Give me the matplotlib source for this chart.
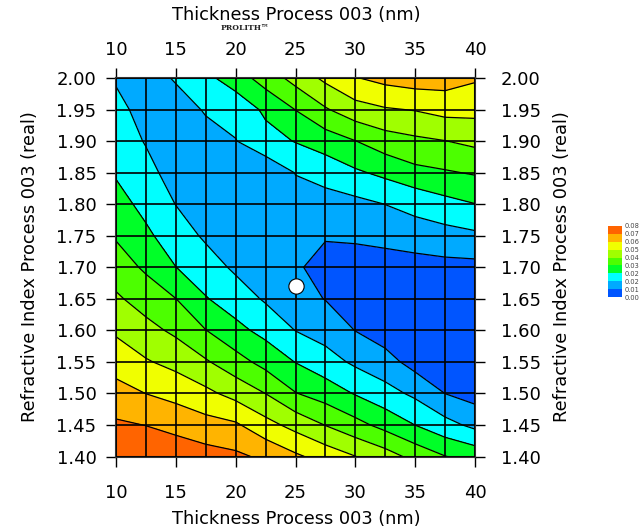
import matplotlib
matplotlib.use("Agg")
import matplotlib.pyplot as plt
import numpy as np
from matplotlib.colors import ListedColormap, BoundaryNorm
import matplotlib as mpl

# ---- data ----
thickness = [10, 12.5, 15, 17.5, 20, 22.5, 25, 27.5, 30, 32.5, 35, 37.5, 40]
refr_index = [1.40, 1.45, 1.50, 1.55, 1.60, 1.65, 1.70, 1.75, 1.80, 1.85, 1.90, 1.95, 2.00]
x_ticks = [10, 15, 20, 25, 30, 35, 40]

# rows: refractive index 1.40 .. 2.00 ; columns: thickness 10 .. 40
merit_n140 = [0.07417, 0.07333, 0.07167, 0.07000, 0.06833, 0.06500, 0.05975, 0.05500, 0.05017, 0.04542, 0.03900, 0.03358, 0.03042]
merit_n145 = [0.06792, 0.06650, 0.06425, 0.06142, 0.05950, 0.05283, 0.04725, 0.04142, 0.03608, 0.03058, 0.02492, 0.01950, 0.01458]
merit_n150 = [0.06133, 0.05825, 0.05558, 0.05200, 0.04717, 0.04158, 0.03367, 0.02958, 0.02442, 0.01967, 0.01500, 0.00825, 0.00508]
merit_n155 = [0.05492, 0.05075, 0.04750, 0.04258, 0.03658, 0.03050, 0.02475, 0.02008, 0.01517, 0.01150, 0.00517, 0.00375, 0.00375]
merit_n160 = [0.04875, 0.04433, 0.04000, 0.03350, 0.02733, 0.02250, 0.01650, 0.01333, 0.00817, 0.00417, 0.00333, 0.00292, 0.00333]
merit_n165 = [0.04292, 0.03808, 0.03342, 0.02550, 0.02092, 0.01567, 0.01125, 0.00808, 0.00500, 0.00333, 0.00292, 0.00292, 0.00417]
merit_n170 = [0.03750, 0.03200, 0.02508, 0.02042, 0.01525, 0.01208, 0.00933, 0.00567, 0.00417, 0.00458, 0.00417, 0.00583, 0.00592]
merit_n175 = [0.03250, 0.02658, 0.02075, 0.01542, 0.01250, 0.01083, 0.01042, 0.00892, 0.00975, 0.01083, 0.01342, 0.01358, 0.01508]
merit_n180 = [0.02808, 0.02267, 0.01650, 0.01250, 0.01125, 0.01000, 0.01375, 0.01325, 0.01433, 0.01675, 0.01875, 0.02233, 0.02483]
merit_n185 = [0.02417, 0.01942, 0.01300, 0.01167, 0.01250, 0.01125, 0.01692, 0.01983, 0.02375, 0.02692, 0.03100, 0.03250, 0.03408]
merit_n190 = [0.02142, 0.01608, 0.01208, 0.01333, 0.01642, 0.02167, 0.02542, 0.02892, 0.03317, 0.03783, 0.04000, 0.04150, 0.04358]
merit_n195 = [0.01867, 0.01417, 0.01250, 0.01750, 0.01917, 0.02667, 0.03350, 0.04083, 0.04667, 0.04925, 0.05042, 0.05275, 0.05250]
merit_n200 = [0.01592, 0.01250, 0.01758, 0.02283, 0.02933, 0.03692, 0.04458, 0.05183, 0.05792, 0.06083, 0.06250, 0.06208, 0.05933]

levels = [0.0, 0.008333, 0.016667, 0.025, 0.033333, 0.041667, 0.05, 0.058333, 0.066667, 0.075]
level_labels = ["0.00", "0.01", "0.02", "0.02", "0.03", "0.04", "0.05", "0.06", "0.07", "0.08"]
band_colors = ["#0055ff", "#00aaff", "#00ffff", "#00ff28", "#4cff00",
               "#a0ff00", "#f0ff00", "#ffb400", "#ff6400"]

best_thickness = 25.0
best_index = 1.67

x_label = "Thickness Process 003 (nm)"
y_label = "Refractive Index Process 003 (real)"

Z = np.array([merit_n140, merit_n145, merit_n150, merit_n155, merit_n160, merit_n165,
              merit_n170, merit_n175, merit_n180, merit_n185, merit_n190, merit_n195,
              merit_n200])
X, Y = np.meshgrid(thickness, refr_index)

# ---- figure ----
W, H = 639, 531
fig = plt.figure(figsize=(W / 100, H / 100), dpi=100)
ax = fig.add_axes([116 / W, 1 - 456.5 / H, 359 / W, 378.5 / H])

ax.contourf(X, Y, Z, levels=levels, colors=band_colors)
ax.contour(X, Y, Z, levels=levels[1:-1], colors="k", linewidths=0.9)

for xv in thickness:
    ax.axvline(xv, color="k", lw=1.2, zorder=3)
for yv in refr_index:
    ax.axhline(yv, color="k", lw=1.2, zorder=3)

ax.plot(best_thickness, best_index, "o", ms=11, mfc="white", mec="k", mew=0.8, zorder=5)

ax.set_xlim(thickness[0], thickness[-1])
ax.set_ylim(refr_index[0], refr_index[-1])
ax.set_xticks(x_ticks)
ax.set_yticks(refr_index)
ax.set_yticklabels([f"{v:.2f}" for v in refr_index])

for s in ax.spines.values():
    s.set_linewidth(1.5)
    s.set_color("#333333")

tick_font = 13
ax.tick_params(direction="out", length=7, width=1, labelsize=tick_font,
               top=True, right=True, labeltop=False, labelright=False)
ax.tick_params(axis="x", pad=12.5)
ax.tick_params(axis="y", pad=7)

# top / right tick labels with their own spacing
secx = ax.secondary_xaxis("top")
secx.set_xticks(x_ticks)
secx.tick_params(length=0, pad=13.7, labelsize=tick_font)
secx.spines["top"].set_visible(False)
secy = ax.secondary_yaxis("right")
secy.set_yticks(refr_index)
secy.set_yticklabels([f"{v:.2f}" for v in refr_index])
secy.tick_params(length=0, pad=18.8, labelsize=tick_font)
secy.spines["right"].set_visible(False)

lab_font = 12.8
fig.text(296 / W, 1 - 519 / H, x_label, fontsize=lab_font, ha="center", va="center")
fig.text(296 / W, 1 - 15 / H, x_label, fontsize=lab_font, ha="center", va="center")
fig.text(30 / W, 1 - 267 / H, y_label, fontsize=lab_font, ha="center", va="center", rotation=90)
fig.text(562 / W, 1 - 267 / H, y_label, fontsize=lab_font, ha="center", va="center", rotation=90)

fig.text(245 / W, 1 - 28 / H, "PROLITH\u2122", family="DejaVu Serif",
         weight="bold", fontsize=5.5, ha="center", va="center", color="#222222")

# ---- colour key ----
cax = fig.add_axes([608 / W, 1 - 297 / H, 14 / W, 71 / H])
cmap = ListedColormap(band_colors)
norm = BoundaryNorm(levels, cmap.N)
cb = mpl.colorbar.ColorbarBase(cax, cmap=cmap, norm=norm, ticks=levels)
cb.set_ticklabels(level_labels)
cb.outline.set_visible(False)
cax.tick_params(length=0, labelsize=4.8, pad=2, colors="#444444")

fig.savefig("out.png", dpi=100)
